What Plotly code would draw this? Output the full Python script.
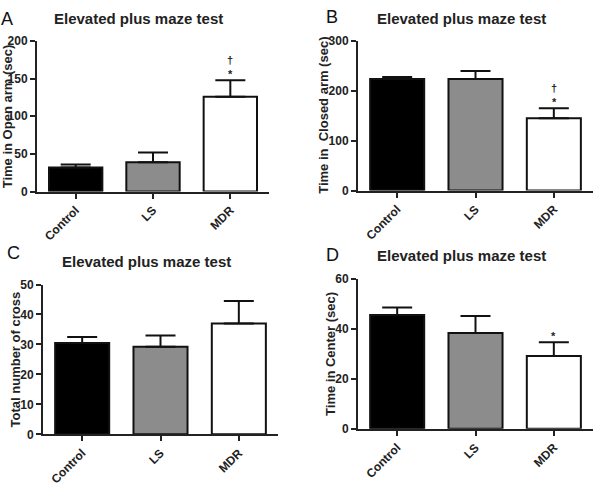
import plotly.graph_objects as go

groups = ["Control", "LS", "MDR"]
colors = ["#000000", "#8c8c8c", "#ffffff"]

open_arm = [32, 39, 126]
open_arm_sem = [4, 13, 22]
closed_arm = [224, 224, 145]
closed_arm_sem = [4, 16, 20]
crosses = [30.5, 29.2, 37]
crosses_sem = [2, 3.8, 7.5]
center = [45.6, 38.4, 29.2]
center_sem = [3, 6.8, 5.5]

W, H = 596, 488
FONT = "Liberation Sans, Arial, sans-serif"

panels = [
    dict(letter="A", vals=open_arm, sem=open_arm_sem, ymax=200, dtick=50,
         ylab="Time in Open arm (sec)", px=(37, 269), py=(35, 190),
         title_xy=(138, 12), letter_xy=(7, 12), ylab_x=7, marks="†<br>*"),
    dict(letter="B", vals=closed_arm, sem=closed_arm_sem, ymax=300, dtick=100,
         ylab="Time in  Closed arm (sec)", px=(358, 593), py=(35, 189),
         title_xy=(461, 12), letter_xy=(332, 10), ylab_x=324, marks="†<br>*"),
    dict(letter="C", vals=crosses, sem=crosses_sem, ymax=50, dtick=10,
         ylab="Total number of cross", px=(43, 278), py=(285.7, 440),
         title_xy=(146, 262), letter_xy=(13, 253), ylab_x=15, marks=""),
    dict(letter="D", vals=center, sem=center_sem, ymax=60, dtick=20,
         ylab="Time in Center (sec)", px=(358, 593), py=(280, 434.3),
         title_xy=(461, 256), letter_xy=(332, 255), ylab_x=331, marks="*"),
]

fig = go.Figure()
annotations = []
layout = {}
for i, p in enumerate(panels):
    n = "" if i == 0 else str(i + 1)
    xa, ya = "x" + n, "y" + n
    fig.add_trace(go.Bar(
        x=groups, y=p["vals"], xaxis=xa, yaxis=ya, width=0.69,
        marker=dict(color=colors, line=dict(color="#111111", width=2)),
        error_y=dict(type="data", symmetric=False, array=p["sem"],
                     arrayminus=[0] * len(p["sem"]), color="#111111",
                     thickness=2, width=15),
        showlegend=False, hoverinfo="skip",
    ))
    axfont = dict(family=FONT, size=12, color="#222222", weight="bold")
    layout["xaxis" + n] = dict(
        domain=[p["px"][0] / W, p["px"][1] / W], anchor=ya,
        range=[-0.5, 2.5], showline=True, linecolor="#222222", linewidth=2,
        ticks="outside", ticklen=5, tickwidth=2, tickcolor="#222222",
        tickangle=-45, tickfont=axfont, showgrid=False, zeroline=False,
        fixedrange=True)
    layout["yaxis" + n] = dict(
        domain=[1 - p["py"][1] / H, 1 - p["py"][0] / H], anchor=xa,
        range=[0, p["ymax"]], dtick=p["dtick"], showline=True,
        linecolor="#222222", linewidth=2, ticks="outside", ticklen=5,
        tickwidth=2, tickcolor="#222222", tickfont=axfont, showgrid=False,
        zeroline=False, fixedrange=True)
    annotations.append(dict(
        text="Elevated plus maze test", xref="paper", yref="paper",
        x=p["title_xy"][0] / W, y=1 - p["title_xy"][1] / H,
        xanchor="center", yanchor="middle", showarrow=False,
        font=dict(family=FONT, size=15, color="#222222", weight="bold")))
    annotations.append(dict(
        text=p["letter"], xref="paper", yref="paper",
        x=p["letter_xy"][0] / W, y=1 - p["letter_xy"][1] / H,
        xanchor="center", yanchor="middle", showarrow=False,
        font=dict(family=FONT, size=18, color="#111111")))
    annotations.append(dict(
        text=p["ylab"], xref="paper", yref="paper",
        x=p["ylab_x"] / W, y=1 - (p["py"][0] + p["py"][1]) / 2 / H,
        xanchor="center", yanchor="middle", textangle=-90, showarrow=False,
        font=dict(family=FONT, size=13, color="#222222", weight="bold")))
    if p["marks"]:
        top = p["vals"][2] + p["sem"][2]
        annotations.append(dict(
            text=p["marks"], xref=xa, yref=ya, x=groups[2], y=top,
            yanchor="bottom", yshift=-2, showarrow=False,
            font=dict(family=FONT, size=11, color="#222222", weight="bold")))

fig.update_layout(
    width=W, height=H, margin=dict(l=0, r=0, t=0, b=0),
    paper_bgcolor="white", plot_bgcolor="white",
    annotations=annotations, bargap=0.3, **layout)
fig.write_html("out.html")
